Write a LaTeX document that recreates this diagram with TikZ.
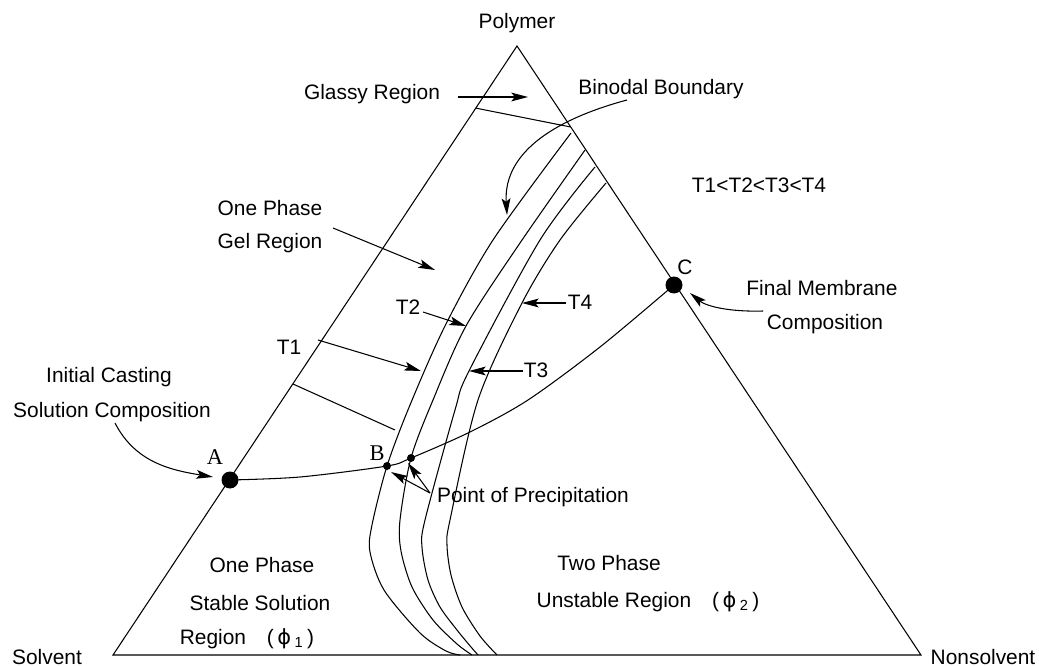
\documentclass[tikz,border=0pt]{standalone}
\usepackage{fontspec}
\setmainfont{Liberation Sans}
\newfontfamily\lblserif{Liberation Serif}
\newfontfamily\greekfont{DejaVu Sans}
\usetikzlibrary{arrows.meta,calc}
\begin{document}
\begin{tikzpicture}[x=0.02cm,y=-0.02cm,
  line/.style={line width=0.6pt,line join=miter},
  arr/.style={line width=0.6pt,-{Stealth[length=9.5pt,width=5pt,inset=2pt]}},
  lbl/.style={inner sep=0pt,anchor=base,yshift=-0.14cm,font=\fontsize{11.9}{14}\selectfont},
  ptl/.style={inner sep=0pt,anchor=base,yshift=-0.15cm,font=\lblserif\fontsize{12.8}{14}\selectfont},
  bigdot/.style={circle,fill=black,inner sep=0pt,minimum size=0.34cm},
  smalldot/.style={circle,fill=black,inner sep=0pt,minimum size=0.16cm}]
\useasboundingbox (0,0) rectangle (1039,666);

% triangle
\coordinate (S) at (113,655);
\coordinate (N) at (921,655);
\coordinate (P) at (517,46);
\draw[line] (S) -- (N) -- (P) -- cycle;

% glassy boundary and gel tie line
\coordinate (g1) at ($(S)!0.898!(P)$);
\coordinate (g2) at ($(N)!0.867!(P)$);
\draw[line] (g1) -- (g2);
\coordinate (h1) at (293,384);
\coordinate (h2) at (395,430);
\draw[line] (h1) -- (h2);

% composition points
\node[bigdot] (A) at (230,480) {};
\node[smalldot] (B) at (387,466) {};
\node[smalldot] (Bp) at (411,458) {};
\node[bigdot] (C) at (674,285) {};

% binodal curves
\draw[line] plot[smooth] coordinates {(571,133) (493,240) (445,326) (410,405) (B.center) (372,525) (370,552) (384,590) (420,633) (446,651) (460,655)};
\draw[line] plot[smooth] coordinates {(585,150) (520,243) (466,326) (433,400) (Bp.center) (400,520) (401,551) (412,587) (433,620) (457,644) (472,655)};
\draw[line] plot[smooth] coordinates {(595,167) (540,240) (469,371) (455,410) (425,520) (422,547) (428,580) (440,607) (457,630) (471,647) (478,655)};
\draw[line] plot[smooth] coordinates {(606,183) (560,240) (522,303) (478,400) (450,520) (447,545) (451,575) (462,607) (480,636) (497,655)};

% composition path
\draw[line] plot[smooth] coordinates {(A.center) (300,477) (B.center) (Bp.center) (470,432) (528,400) (600,347) (C.center)};

% labels
\node[lbl] (polymer) at (517,22) {Polymer};
\node[lbl] (glassy) at (372,93) {Glassy Region};
\coordinate (glassyend) at (528,97);
\draw[arr] (458,97) -- (glassyend);
\node[lbl] (binodal) at (661,88) {Binodal Boundary};
\coordinate (binend) at (507,215);
\draw[arr] (627,100) .. controls (560,118) and (503,150) .. (binend);
\node[lbl] (order) at (759,185) {T1<T2<T3<T4};

\node[lbl] (gel1) at (270,208) {One Phase};
\node[lbl] (gel2) at (270,242) {Gel Region};
\coordinate (gelend) at (435,270);
\draw[arr] (333,228) -- (gelend);

\node[lbl] (Clbl) at (685,267) {C};
\node[lbl] (fin1) at (822,288) {Final Membrane};
\node[lbl] (fin2) at (825,322) {Composition};
\coordinate (finend) at (690,293);
\draw[arr] (763,311) .. controls (728,312) and (706,306) .. (finend);

\node[lbl] (T2) at (408,307) {T2};
\coordinate (T2end) at (466,326);
\draw[arr] (423,312) -- (T2end);
\node[lbl] (T4) at (580,303) {T4};
\coordinate (T4end) at (522,303);
\draw[arr] (566,303) -- (T4end);
\node[lbl] (T1) at (289,347) {T1};
\coordinate (T1end) at (421,371);
\draw[arr] (318,340) -- (T1end);
\node[lbl] (T3) at (536,370) {T3};
\coordinate (T3end) at (469,371);
\draw[arr] (523,371) -- (T3end);

\node[lbl] (ini1) at (109,375) {Initial Casting};
\node[lbl] (ini2) at (112,410) {Solution Composition};
\coordinate (iniend) at (213,477);
\draw[arr] (115,423) .. controls (135,462) and (170,470) .. (iniend);

\node[ptl] (Albl) at (215,457) {A};
\node[ptl] (Blbl) at (377,453) {B};

\node[lbl] (prec) at (533,495) {Point of Precipitation};
\coordinate (pp) at (430,493);
\coordinate (ppB) at (391,472);
\coordinate (ppBp) at (408,463);
\draw[arr] (pp) -- (ppB);
\draw[arr] (pp) -- (ppBp);

\node[lbl] (st1) at (262,565) {One Phase};
\node[lbl] (st2) at (260,603) {Stable Solution};
\node[lbl] (st3) at (247,637) {Region\quad(\,{\greekfont ϕ}\,\textsubscript{1}\,)};
\node[lbl] (un1) at (609,563) {Two Phase};
\node[lbl] (un2) at (648,600) {Unstable Region\quad(\,{\greekfont ϕ}\,\textsubscript{2}\,)};

\node[lbl] (solv) at (47,657) {Solvent};
\node[lbl] (nons) at (983,657) {Nonsolvent};
\end{tikzpicture}
\end{document}
